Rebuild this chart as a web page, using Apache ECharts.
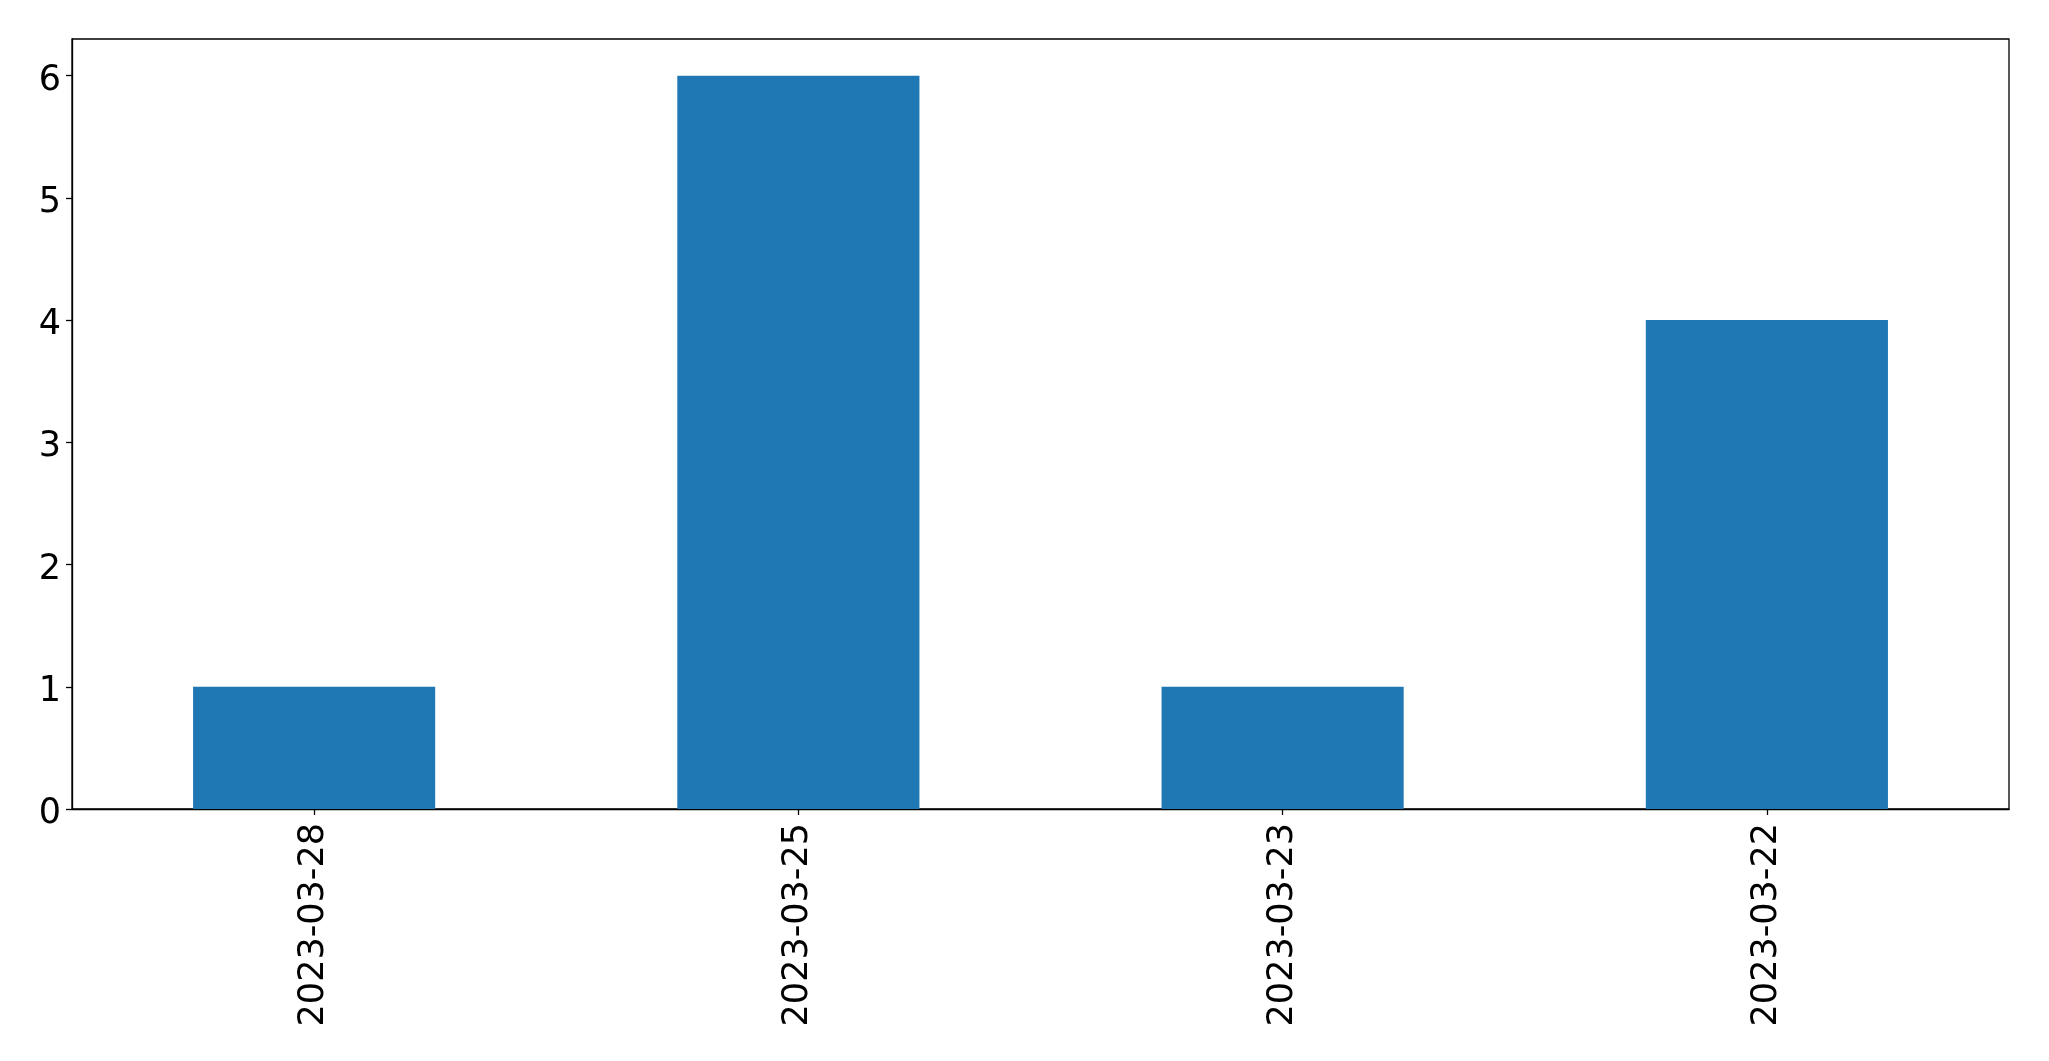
<!DOCTYPE html>
<html>
<head>
<meta charset="utf-8">
<script src="https://cdn.jsdelivr.net/npm/echarts@6/dist/echarts.min.js"></script>
<style>html,body{margin:0;padding:0;background:#fff}#c{width:2049px;height:1061px}</style>
</head>
<body>
<div id="c"></div>
<script>
const categories = ['2023-03-28', '2023-03-25', '2023-03-23', '2023-03-22'];
const counts = [1, 6, 1, 4];
const yTicks = [0, 1, 2, 3, 4, 5, 6];

const chart = echarts.init(document.getElementById('c'), null, {renderer: 'canvas'});
const font = 'DejaVu Sans';
chart.setOption({
  animation: false,
  backgroundColor: '#ffffff',
  grid: {left: 72, right: 40, top: 39, bottom: 252, show: true, borderColor: '#000', borderWidth: 1.3, backgroundColor: 'transparent'},
  xAxis: {
    type: 'category',
    data: categories,
    boundaryGap: true,
    axisLine: {show: true, lineStyle: {color: '#000', width: 1.3}},
    axisTick: {show: true, alignWithLabel: true, length: 6, lineStyle: {color: '#000', width: 1.3}},
    axisLabel: {rotate: 90, margin: 14, fontFamily: font, fontSize: 35, color: '#000'},
    splitLine: {show: false}
  },
  yAxis: {
    type: 'value',
    min: 0,
    max: 6.3,
    interval: 1,
    axisLine: {show: true, lineStyle: {color: '#000', width: 1.3}},
    axisTick: {show: true, length: 6, customValues: yTicks, lineStyle: {color: '#000', width: 1.3}},
    axisLabel: {
      margin: 11, fontFamily: font, fontSize: 35, color: '#000', customValues: yTicks,
      formatter: function (v) { return '{a|' + v + '}'; },
      rich: {a: {fontFamily: font, fontSize: 35, color: '#000', padding: [10, 0, 0, 0]}}
    },
    splitLine: {show: false}
  },
  series: [{
    type: 'bar',
    data: counts,
    barWidth: '50%',
    itemStyle: {color: '#1f77b4'}
  }]
});
</script>
</body>
</html>
